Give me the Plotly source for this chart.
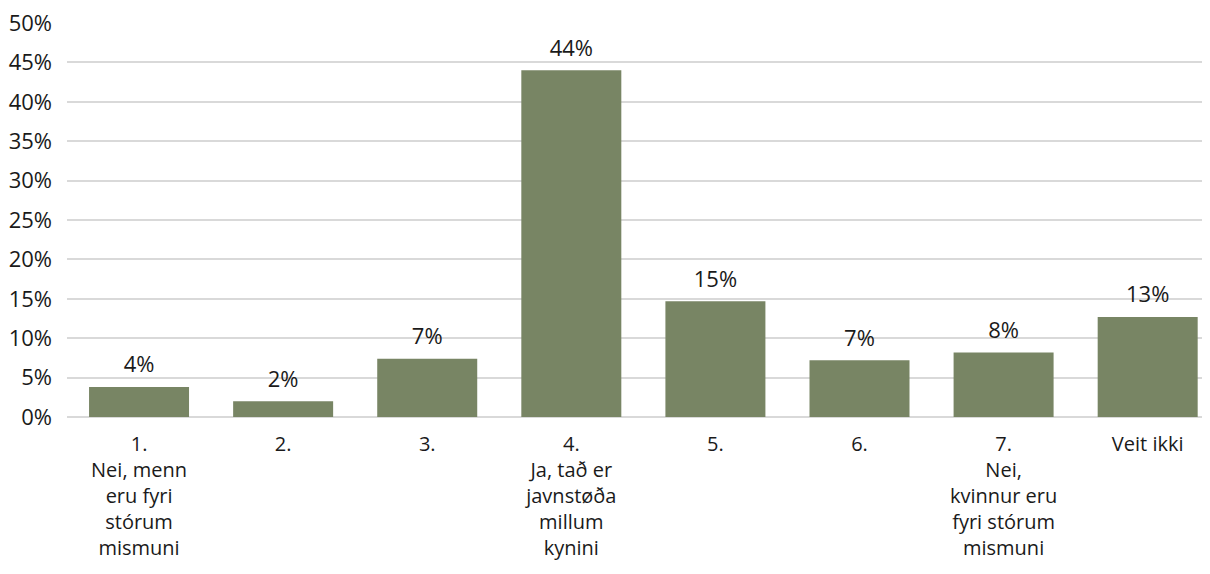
import plotly.graph_objects as go

categories = [
    "1.<br>Nei, menn<br>eru fyri<br>stórum<br>mismuni",
    "2.",
    "3.",
    "4.<br>Ja, tað er<br>javnstøða<br>millum<br>kynini",
    "5.",
    "6.",
    "7.<br>Nei,<br>kvinnur eru<br>fyri stórum<br>mismuni",
    "Veit ikki",
]
values = [0.038, 0.020, 0.074, 0.440, 0.147, 0.072, 0.082, 0.127]
y_ticks = [0, 0.05, 0.10, 0.15, 0.20, 0.25, 0.30, 0.35, 0.40, 0.45, 0.50]

FONT = "Open Sans"
FS = 22
FS_X = 20
TXT = "#1a1a1a"
BAR_COLOR = "#788564"

fig = go.Figure()
fig.add_trace(
    go.Bar(
        x=categories,
        y=values,
        marker=dict(color=BAR_COLOR, line=dict(width=0)),
        hoverinfo="skip",
    )
)
# value labels above bars (invisible markers give the offset)
fig.add_trace(
    go.Scatter(
        x=categories,
        y=values,
        mode="markers+text",
        marker=dict(size=13, opacity=0, color=BAR_COLOR),
        texttemplate="%{y:.0%}",
        textposition="top center",
        textfont=dict(family=FONT, size=FS, color=TXT),
        cliponaxis=False,
        hoverinfo="skip",
    )
)

# page body has an 8px margin; keep figure inside the window (no scrollbars)
fig.update_layout(
    width=1194,
    height=558,
    margin=dict(l=59, r=0, t=15, b=149, autoexpand=False),
    paper_bgcolor="white",
    plot_bgcolor="white",
    bargap=0.306,
    showlegend=False,
    font=dict(family=FONT, size=FS, color=TXT),
)
fig.update_yaxes(
    range=[0, 0.5],
    tickvals=y_ticks,
    tickformat=".0%",
    showgrid=True,
    gridcolor="#d9d9d9",
    gridwidth=2,
    zeroline=True,
    zerolinecolor="#d9d9d9",
    zerolinewidth=2,
    showline=False,
    ticks="",
    automargin=False,
    ticklabeloverflow="allow",
    ticklabelstandoff=14,
    tickfont=dict(family=FONT, size=FS, color=TXT),
)
fig.update_xaxes(
    range=[-0.5, 7.377],
    showgrid=False,
    showline=False,
    ticks="",
    tickangle=0,
    automargin=False,
    ticklabelstandoff=13,
    tickfont=dict(family=FONT, size=FS_X, color=TXT),
)

fig.write_html("out.html")
